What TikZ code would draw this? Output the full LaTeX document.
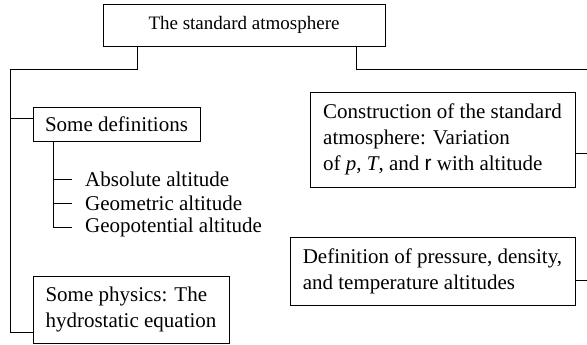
\documentclass[tikz,border=0pt]{standalone}
\usepackage{fontspec}
\setmainfont{Liberation Serif}
\setsansfont{Liberation Sans}
\begin{document}
\begin{tikzpicture}[x=1pt,y=-1pt,
  txt/.style={font=\fontsize{21}{26}\selectfont},
  box/.style={draw, line width=0.8pt, rectangle, align=left, inner sep=0pt, txt},
  item/.style={anchor=west, inner sep=0pt, inner xsep=13pt, txt},
  link/.style={draw, line width=0.8pt}]
\useasboundingbox (0,0) rectangle (587,345);
\node[box, minimum width=282, minimum height=42, font=\fontsize{19}{25}\selectfont] (top) at (244,25) {The standard atmosphere};
\node[box, minimum width=167, minimum height=34] (defs) at (116.5,124) {Some definitions};
\node[item] (abs) at (72,179) {Absolute altitude};
\node[item] (geom) at (72,203) {Geometric altitude};
\node[item] (geop) at (72,227) {Geopotential altitude};
\node[box, minimum width=196, minimum height=67] (phys) at (131,309.5) {Some physics: The\\hydrostatic equation};
\node[box, minimum width=265, minimum height=95] (cons) at (442.5,139.5) {Construction of the standard\\atmosphere: Variation\\of \textit{p}, \textit{T}, and \textsf{r} with altitude};
\node[box, minimum width=285, minimum height=68] (altd) at (432.5,271) {Definition of pressure, density,\\and temperature altitudes};
\coordinate (L) at (10,69);
\coordinate (R) at (590,69);
\coordinate (Lb) at (10,332);
\coordinate (Lv) at (53,0);
\draw[link] (top.south -| 137,0) |- (L) -- (Lb) -- (phys.west |- Lb);
\draw[link] (L |- 0,118) -- (defs.west |- 0,118);
\draw[link] (top.south -| 356,0) |- (R) |- (altd.east |- 0,280);
\draw[link] (R |- 0,153) -- (cons.east |- 0,153);
\draw[link] (defs.south -| Lv) |- (geop.west);
\draw[link] (Lv |- abs.west) -- (abs.west);
\draw[link] (Lv |- geom.west) -- (geom.west);
\end{tikzpicture}
\end{document}
